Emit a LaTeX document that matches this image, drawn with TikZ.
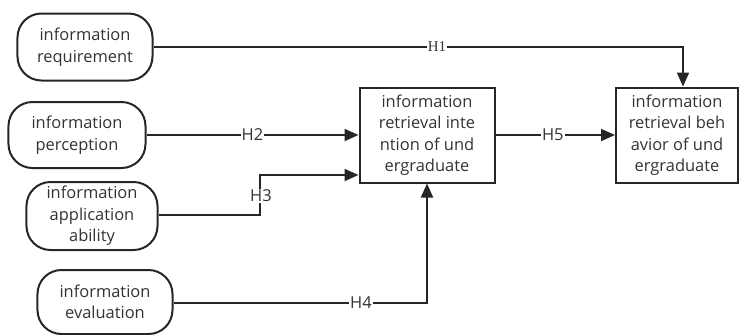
\documentclass[tikz,border=0pt]{standalone}
\usepackage{fontspec}
\setmainfont{Open Sans}
\newfontfamily\hserif{Liberation Serif}
\usetikzlibrary{arrows.meta}
\begin{document}
\begin{tikzpicture}[x=1bp,y=-1bp,
  font=\fontsize{16.5}{21.5}\selectfont,
  pill/.style={draw=black!85,line width=2bp,rounded corners=24bp,align=center,inner sep=0pt,text=black!80},
  sq/.style={draw=black!85,line width=2bp,align=center,inner sep=0pt,text=black!80},
  conn/.style={draw=black!85,line width=2bp},
  arr/.style={conn,-{Triangle[length=14bp,width=12bp]}},
  lab/.style={fill=white,inner sep=1pt,text=black!80}]
\useasboundingbox (0,0) rectangle (741,334);
\node[pill,minimum width=135bp,minimum height=67bp] (req) at (85,47) {information\\requirement};
\node[pill,minimum width=137bp,minimum height=66bp] (per) at (77,135) {information\\perception};
\node[pill,minimum width=131bp,minimum height=68bp] (app) at (92,216) {information\\application\\ability};
\node[pill,minimum width=135bp,minimum height=64bp] (eva) at (105,302) {information\\evaluation};
\node[sq,minimum width=135bp,minimum height=95bp] (int) at (427,135) {information\\retrieval inte\\ntion of und\\ergraduate};
\node[sq,minimum width=122bp,minimum height=95bp] (beh) at (677,135) {information\\retrieval beh\\avior of und\\ergraduate};
\coordinate (h1c) at (683,47);
\coordinate (h3a) at (260,215);
\coordinate (h3b) at (260,175);
\coordinate (h4c) at (427,303);
\draw[arr] (req.east |- h1c) -- (h1c) -- (beh.north -| h1c);
\node[lab,font=\fontsize{15}{16}\selectfont\hserif] at (437,47) {H1};
\draw[arr] (per.east) -- (int.west |- per.east) node[lab,pos=0.5] {H2};
\draw[arr] (app.east |- h3a) -- (h3a) -- (h3b) -- (int.west |- h3b);
\node[lab] at (261,196) {H3};
\draw[arr] (eva.east |- h4c) -- (h4c) -- (int.south -| h4c);
\node[lab] at (361,303) {H4};
\draw[arr] (int.east) -- (beh.west) node[lab,pos=0.48] {H5};
\end{tikzpicture}
\end{document}
